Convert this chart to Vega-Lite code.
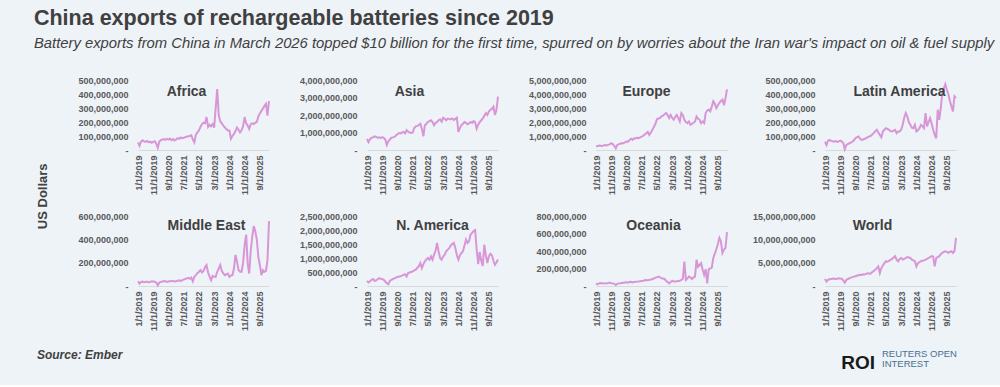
{
"$schema": "https://vega.github.io/schema/vega-lite/v6.json",
"background": "#eef3f8",
"padding": {"left": 33, "top": 7, "right": 6, "bottom": 12},
"data": {"values": [
{"d":"1/1/2019","Africa":55e6,"Asia":640e6,"Europe":290e6,"LatinAmerica":60e6,"MiddleEast":40e6,"NAmerica":180e6,"Oceania":30e6,"World":1500e6},
{"d":"2/1/2019","Africa":30e6,"Asia":450e6,"Europe":270e6,"LatinAmerica":36e6,"MiddleEast":20e6,"NAmerica":130e6,"Oceania":19e6,"World":940e6},
{"d":"3/1/2019","Africa":60e6,"Asia":620e6,"Europe":320e6,"LatinAmerica":67e6,"MiddleEast":35e6,"NAmerica":170e6,"Oceania":30e6,"World":1300e6},
{"d":"4/1/2019","Africa":70e6,"Asia":700e6,"Europe":300e6,"LatinAmerica":72e6,"MiddleEast":38e6,"NAmerica":220e6,"Oceania":35e6,"World":1450e6},
{"d":"5/1/2019","Africa":62e6,"Asia":720e6,"Europe":280e6,"LatinAmerica":65e6,"MiddleEast":32e6,"NAmerica":250e6,"Oceania":28e6,"World":1500e6},
{"d":"6/1/2019","Africa":58e6,"Asia":780e6,"Europe":330e6,"LatinAmerica":62e6,"MiddleEast":35e6,"NAmerica":180e6,"Oceania":32e6,"World":1550e6},
{"d":"7/1/2019","Africa":65e6,"Asia":750e6,"Europe":350e6,"LatinAmerica":60e6,"MiddleEast":38e6,"NAmerica":200e6,"Oceania":30e6,"World":1600e6},
{"d":"8/1/2019","Africa":55e6,"Asia":700e6,"Europe":320e6,"LatinAmerica":64e6,"MiddleEast":30e6,"NAmerica":240e6,"Oceania":28e6,"World":1500e6},
{"d":"9/1/2019","Africa":60e6,"Asia":720e6,"Europe":380e6,"LatinAmerica":58e6,"MiddleEast":35e6,"NAmerica":280e6,"Oceania":35e6,"World":1550e6},
{"d":"10/1/2019","Africa":52e6,"Asia":680e6,"Europe":400e6,"LatinAmerica":62e6,"MiddleEast":40e6,"NAmerica":260e6,"Oceania":38e6,"World":1670e6},
{"d":"11/1/2019","Africa":58e6,"Asia":740e6,"Europe":480e6,"LatinAmerica":67e6,"MiddleEast":38e6,"NAmerica":250e6,"Oceania":32e6,"World":1600e6},
{"d":"12/1/2019","Africa":62e6,"Asia":700e6,"Europe":420e6,"LatinAmerica":60e6,"MiddleEast":36e6,"NAmerica":220e6,"Oceania":30e6,"World":1550e6},
{"d":"1/1/2020","Africa":45e6,"Asia":600e6,"Europe":300e6,"LatinAmerica":50e6,"MiddleEast":30e6,"NAmerica":160e6,"Oceania":25e6,"World":1200e6},
{"d":"2/1/2020","Africa":15e6,"Asia":290e6,"Europe":120e6,"LatinAmerica":5e6,"MiddleEast":6e6,"NAmerica":100e6,"Oceania":12e6,"World":720e6},
{"d":"3/1/2020","Africa":60e6,"Asia":500e6,"Europe":360e6,"LatinAmerica":36e6,"MiddleEast":30e6,"NAmerica":60e6,"Oceania":25e6,"World":1300e6},
{"d":"4/1/2020","Africa":70e6,"Asia":600e6,"Europe":420e6,"LatinAmerica":42e6,"MiddleEast":35e6,"NAmerica":180e6,"Oceania":30e6,"World":1500e6},
{"d":"5/1/2020","Africa":75e6,"Asia":700e6,"Europe":450e6,"LatinAmerica":48e6,"MiddleEast":38e6,"NAmerica":220e6,"Oceania":32e6,"World":1650e6},
{"d":"6/1/2020","Africa":78e6,"Asia":720e6,"Europe":500e6,"LatinAmerica":52e6,"MiddleEast":43e6,"NAmerica":250e6,"Oceania":35e6,"World":1800e6},
{"d":"7/1/2020","Africa":72e6,"Asia":750e6,"Europe":480e6,"LatinAmerica":60e6,"MiddleEast":40e6,"NAmerica":270e6,"Oceania":38e6,"World":1900e6},
{"d":"8/1/2020","Africa":80e6,"Asia":830e6,"Europe":550e6,"LatinAmerica":70e6,"MiddleEast":35e6,"NAmerica":300e6,"Oceania":40e6,"World":2000e6},
{"d":"9/1/2020","Africa":75e6,"Asia":900e6,"Europe":600e6,"LatinAmerica":84e6,"MiddleEast":38e6,"NAmerica":320e6,"Oceania":42e6,"World":2100e6},
{"d":"10/1/2020","Africa":82e6,"Asia":970e6,"Europe":580e6,"LatinAmerica":92e6,"MiddleEast":42e6,"NAmerica":340e6,"Oceania":38e6,"World":2250e6},
{"d":"11/1/2020","Africa":70e6,"Asia":950e6,"Europe":720e6,"LatinAmerica":96e6,"MiddleEast":40e6,"NAmerica":350e6,"Oceania":45e6,"World":2300e6},
{"d":"12/1/2020","Africa":78e6,"Asia":1000e6,"Europe":800e6,"LatinAmerica":80e6,"MiddleEast":45e6,"NAmerica":370e6,"Oceania":48e6,"World":2400e6},
{"d":"1/1/2021","Africa":68e6,"Asia":1030e6,"Europe":720e6,"LatinAmerica":72e6,"MiddleEast":38e6,"NAmerica":400e6,"Oceania":40e6,"World":2350e6},
{"d":"2/1/2021","Africa":75e6,"Asia":950e6,"Europe":840e6,"LatinAmerica":75e6,"MiddleEast":40e6,"NAmerica":420e6,"Oceania":45e6,"World":2500e6},
{"d":"3/1/2021","Africa":85e6,"Asia":1130e6,"Europe":820e6,"LatinAmerica":80e6,"MiddleEast":45e6,"NAmerica":340e6,"Oceania":48e6,"World":2450e6},
{"d":"4/1/2021","Africa":80e6,"Asia":1050e6,"Europe":880e6,"LatinAmerica":84e6,"MiddleEast":48e6,"NAmerica":460e6,"Oceania":50e6,"World":2600e6},
{"d":"5/1/2021","Africa":90e6,"Asia":1000e6,"Europe":850e6,"LatinAmerica":92e6,"MiddleEast":42e6,"NAmerica":480e6,"Oceania":52e6,"World":2750e6},
{"d":"6/1/2021","Africa":85e6,"Asia":970e6,"Europe":900e6,"LatinAmerica":96e6,"MiddleEast":50e6,"NAmerica":500e6,"Oceania":55e6,"World":2700e6},
{"d":"7/1/2021","Africa":88e6,"Asia":1000e6,"Europe":950e6,"LatinAmerica":100e6,"MiddleEast":55e6,"NAmerica":520e6,"Oceania":58e6,"World":2650e6},
{"d":"8/1/2021","Africa":92e6,"Asia":1250e6,"Europe":1020e6,"LatinAmerica":110e6,"MiddleEast":60e6,"NAmerica":560e6,"Oceania":60e6,"World":2970e6},
{"d":"9/1/2021","Africa":95e6,"Asia":1350e6,"Europe":1100e6,"LatinAmerica":120e6,"MiddleEast":65e6,"NAmerica":580e6,"Oceania":65e6,"World":3200e6},
{"d":"10/1/2021","Africa":98e6,"Asia":1380e6,"Europe":1200e6,"LatinAmerica":135e6,"MiddleEast":70e6,"NAmerica":650e6,"Oceania":69e6,"World":3500e6},
{"d":"11/1/2021","Africa":100e6,"Asia":1420e6,"Europe":1300e6,"LatinAmerica":144e6,"MiddleEast":62e6,"NAmerica":700e6,"Oceania":65e6,"World":3840e6},
{"d":"12/1/2021","Africa":105e6,"Asia":1500e6,"Europe":1080e6,"LatinAmerica":125e6,"MiddleEast":72e6,"NAmerica":820e6,"Oceania":72e6,"World":4200e6},
{"d":"1/1/2022","Africa":75e6,"Asia":1220e6,"Europe":1250e6,"LatinAmerica":108e6,"MiddleEast":40e6,"NAmerica":640e6,"Oceania":72e6,"World":2750e6},
{"d":"2/1/2022","Africa":55e6,"Asia":780e6,"Europe":1440e6,"LatinAmerica":91e6,"MiddleEast":80e6,"NAmerica":780e6,"Oceania":80e6,"World":3840e6},
{"d":"3/1/2022","Africa":110e6,"Asia":1420e6,"Europe":1650e6,"LatinAmerica":132e6,"MiddleEast":93e6,"NAmerica":880e6,"Oceania":85e6,"World":4400e6},
{"d":"4/1/2022","Africa":125e6,"Asia":1500e6,"Europe":1850e6,"LatinAmerica":145e6,"MiddleEast":110e6,"NAmerica":950e6,"Oceania":96e6,"World":4900e6},
{"d":"5/1/2022","Africa":140e6,"Asia":1600e6,"Europe":2200e6,"LatinAmerica":156e6,"MiddleEast":122e6,"NAmerica":1000e6,"Oceania":100e6,"World":5300e6},
{"d":"6/1/2022","Africa":165e6,"Asia":1650e6,"Europe":2250e6,"LatinAmerica":150e6,"MiddleEast":136e6,"NAmerica":940e6,"Oceania":108e6,"World":5200e6},
{"d":"7/1/2022","Africa":185e6,"Asia":1700e6,"Europe":2280e6,"LatinAmerica":144e6,"MiddleEast":116e6,"NAmerica":1060e6,"Oceania":100e6,"World":5400e6},
{"d":"8/1/2022","Africa":195e6,"Asia":1600e6,"Europe":2400e6,"LatinAmerica":135e6,"MiddleEast":130e6,"NAmerica":940e6,"Oceania":88e6,"World":5600e6},
{"d":"9/1/2022","Africa":190e6,"Asia":1420e6,"Europe":2450e6,"LatinAmerica":132e6,"MiddleEast":160e6,"NAmerica":1120e6,"Oceania":85e6,"World":5800e6},
{"d":"10/1/2022","Africa":235e6,"Asia":1550e6,"Europe":2550e6,"LatinAmerica":138e6,"MiddleEast":180e6,"NAmerica":1250e6,"Oceania":80e6,"World":6100e6},
{"d":"11/1/2022","Africa":165e6,"Asia":1600e6,"Europe":2640e6,"LatinAmerica":144e6,"MiddleEast":116e6,"NAmerica":1540e6,"Oceania":60e6,"World":6400e6},
{"d":"12/1/2022","Africa":180e6,"Asia":1700e6,"Europe":2500e6,"LatinAmerica":120e6,"MiddleEast":80e6,"NAmerica":1240e6,"Oceania":45e6,"World":5650e6},
{"d":"1/1/2023","Africa":170e6,"Asia":1750e6,"Europe":2280e6,"LatinAmerica":132e6,"MiddleEast":50e6,"NAmerica":1000e6,"Oceania":30e6,"World":5300e6},
{"d":"2/1/2023","Africa":185e6,"Asia":1620e6,"Europe":2500e6,"LatinAmerica":132e6,"MiddleEast":87e6,"NAmerica":940e6,"Oceania":45e6,"World":5800e6},
{"d":"3/1/2023","Africa":160e6,"Asia":1840e6,"Europe":2300e6,"LatinAmerica":144e6,"MiddleEast":80e6,"NAmerica":1050e6,"Oceania":58e6,"World":6000e6},
{"d":"4/1/2023","Africa":300e6,"Asia":1780e6,"Europe":2160e6,"LatinAmerica":180e6,"MiddleEast":78e6,"NAmerica":1120e6,"Oceania":55e6,"World":5650e6},
{"d":"5/1/2023","Africa":435e6,"Asia":1700e6,"Europe":2350e6,"LatinAmerica":230e6,"MiddleEast":122e6,"NAmerica":1240e6,"Oceania":50e6,"World":5800e6},
{"d":"6/1/2023","Africa":250e6,"Asia":1800e6,"Europe":2500e6,"LatinAmerica":264e6,"MiddleEast":150e6,"NAmerica":1300e6,"Oceania":55e6,"World":6000e6},
{"d":"7/1/2023","Africa":205e6,"Asia":1780e6,"Europe":2280e6,"LatinAmerica":240e6,"MiddleEast":180e6,"NAmerica":1350e6,"Oceania":58e6,"World":6200e6},
{"d":"8/1/2023","Africa":190e6,"Asia":1750e6,"Europe":2040e6,"LatinAmerica":200e6,"MiddleEast":130e6,"NAmerica":1450e6,"Oceania":60e6,"World":6100e6},
{"d":"9/1/2023","Africa":175e6,"Asia":1800e6,"Europe":2640e6,"LatinAmerica":180e6,"MiddleEast":107e6,"NAmerica":1500e6,"Oceania":69e6,"World":6000e6},
{"d":"10/1/2023","Africa":160e6,"Asia":1720e6,"Europe":2500e6,"LatinAmerica":160e6,"MiddleEast":93e6,"NAmerica":1540e6,"Oceania":80e6,"World":5650e6},
{"d":"11/1/2023","Africa":150e6,"Asia":1780e6,"Europe":2160e6,"LatinAmerica":156e6,"MiddleEast":100e6,"NAmerica":1360e6,"Oceania":280e6,"World":5500e6},
{"d":"12/1/2023","Africa":140e6,"Asia":1850e6,"Europe":2000e6,"LatinAmerica":180e6,"MiddleEast":107e6,"NAmerica":1100e6,"Oceania":69e6,"World":5300e6},
{"d":"1/1/2024","Africa":140e6,"Asia":1030e6,"Europe":1920e6,"LatinAmerica":132e6,"MiddleEast":78e6,"NAmerica":940e6,"Oceania":88e6,"World":4200e6},
{"d":"2/1/2024","Africa":80e6,"Asia":1250e6,"Europe":2040e6,"LatinAmerica":140e6,"MiddleEast":90e6,"NAmerica":1100e6,"Oceania":108e6,"World":4900e6},
{"d":"3/1/2024","Africa":100e6,"Asia":1420e6,"Europe":1800e6,"LatinAmerica":156e6,"MiddleEast":93e6,"NAmerica":1180e6,"Oceania":100e6,"World":5100e6},
{"d":"4/1/2024","Africa":115e6,"Asia":1500e6,"Europe":1870e6,"LatinAmerica":180e6,"MiddleEast":150e6,"NAmerica":1240e6,"Oceania":80e6,"World":5300e6},
{"d":"5/1/2024","Africa":135e6,"Asia":1600e6,"Europe":1950e6,"LatinAmerica":170e6,"MiddleEast":267e6,"NAmerica":1450e6,"Oceania":96e6,"World":5400e6},
{"d":"6/1/2024","Africa":160e6,"Asia":1550e6,"Europe":2040e6,"LatinAmerica":156e6,"MiddleEast":209e6,"NAmerica":1660e6,"Oceania":110e6,"World":5500e6},
{"d":"7/1/2024","Africa":145e6,"Asia":1470e6,"Europe":2400e6,"LatinAmerica":264e6,"MiddleEast":136e6,"NAmerica":1540e6,"Oceania":300e6,"World":5650e6},
{"d":"8/1/2024","Africa":125e6,"Asia":1520e6,"Europe":2250e6,"LatinAmerica":168e6,"MiddleEast":122e6,"NAmerica":1600e6,"Oceania":220e6,"World":5800e6},
{"d":"9/1/2024","Africa":140e6,"Asia":1600e6,"Europe":2160e6,"LatinAmerica":200e6,"MiddleEast":122e6,"NAmerica":1840e6,"Oceania":240e6,"World":6000e6},
{"d":"10/1/2024","Africa":170e6,"Asia":1550e6,"Europe":1920e6,"LatinAmerica":228e6,"MiddleEast":200e6,"NAmerica":1900e6,"Oceania":260e6,"World":6200e6},
{"d":"11/1/2024","Africa":235e6,"Asia":1650e6,"Europe":2040e6,"LatinAmerica":190e6,"MiddleEast":350e6,"NAmerica":1960e6,"Oceania":185e6,"World":6400e6},
{"d":"12/1/2024","Africa":190e6,"Asia":1580e6,"Europe":1920e6,"LatinAmerica":144e6,"MiddleEast":440e6,"NAmerica":2000e6,"Oceania":127e6,"World":6300e6},
{"d":"1/1/2025","Africa":175e6,"Asia":1220e6,"Europe":2640e6,"LatinAmerica":110e6,"MiddleEast":194e6,"NAmerica":1300e6,"Oceania":192e6,"World":4200e6},
{"d":"2/1/2025","Africa":150e6,"Asia":1450e6,"Europe":2800e6,"LatinAmerica":84e6,"MiddleEast":107e6,"NAmerica":780e6,"Oceania":30e6,"World":6000e6},
{"d":"3/1/2025","Africa":185e6,"Asia":1600e6,"Europe":2880e6,"LatinAmerica":288e6,"MiddleEast":300e6,"NAmerica":1220e6,"Oceania":192e6,"World":6200e6},
{"d":"4/1/2025","Africa":190e6,"Asia":1700e6,"Europe":2760e6,"LatinAmerica":216e6,"MiddleEast":420e6,"NAmerica":900e6,"Oceania":200e6,"World":6400e6},
{"d":"5/1/2025","Africa":185e6,"Asia":1800e6,"Europe":3100e6,"LatinAmerica":300e6,"MiddleEast":513e6,"NAmerica":720e6,"Oceania":210e6,"World":6800e6},
{"d":"6/1/2025","Africa":195e6,"Asia":1950e6,"Europe":3480e6,"LatinAmerica":408e6,"MiddleEast":470e6,"NAmerica":1480e6,"Oceania":320e6,"World":7100e6},
{"d":"7/1/2025","Africa":200e6,"Asia":2100e6,"Europe":3300e6,"LatinAmerica":440e6,"MiddleEast":397e6,"NAmerica":1100e6,"Oceania":370e6,"World":7300e6},
{"d":"8/1/2025","Africa":240e6,"Asia":2000e6,"Europe":3000e6,"LatinAmerica":469e6,"MiddleEast":250e6,"NAmerica":820e6,"Oceania":420e6,"World":7450e6},
{"d":"9/1/2025","Africa":260e6,"Asia":2200e6,"Europe":3200e6,"LatinAmerica":430e6,"MiddleEast":180e6,"NAmerica":1060e6,"Oceania":480e6,"World":7300e6},
{"d":"10/1/2025","Africa":280e6,"Asia":2300e6,"Europe":3370e6,"LatinAmerica":396e6,"MiddleEast":93e6,"NAmerica":1150e6,"Oceania":550e6,"World":7100e6},
{"d":"11/1/2025","Africa":295e6,"Asia":2350e6,"Europe":3500e6,"LatinAmerica":350e6,"MiddleEast":136e6,"NAmerica":1100e6,"Oceania":510e6,"World":7300e6},
{"d":"12/1/2025","Africa":315e6,"Asia":2480e6,"Europe":3600e6,"LatinAmerica":312e6,"MiddleEast":122e6,"NAmerica":900e6,"Oceania":377e6,"World":7450e6},
{"d":"1/1/2026","Africa":330e6,"Asia":2000e6,"Europe":3200e6,"LatinAmerica":276e6,"MiddleEast":130e6,"NAmerica":760e6,"Oceania":415e6,"World":7100e6},
{"d":"2/1/2026","Africa":245e6,"Asia":2300e6,"Europe":3700e6,"LatinAmerica":384e6,"MiddleEast":220e6,"NAmerica":850e6,"Oceania":435e6,"World":7500e6},
{"d":"3/1/2026","Africa":350e6,"Asia":3050e6,"Europe":4330e6,"LatinAmerica":372e6,"MiddleEast":556e6,"NAmerica":950e6,"Oceania":615e6,"World":10300e6}
]},
"title": {"text": "China exports of rechargeable batteries since 2019", "subtitle": "Battery exports from China in March 2026  topped $10 billion for the first time, spurred on by worries about the Iran war's impact on oil & fuel supply", "anchor": "start", "frame": "bounds", "dx": -3, "offset": 25, "font": "Liberation Sans", "fontSize": 21.5, "fontWeight": "bold", "color": "#404040", "subtitleFont": "Liberation Sans", "subtitleFontSize": 14.8, "subtitleFontStyle": "italic", "subtitleFontWeight": "normal", "subtitleColor": "#404040", "subtitlePadding": 7},
"vconcat": [{
  "title": {"text": "Source: Ember", "orient": "bottom", "anchor": "start", "dx": 0, "offset": -23, "font": "Liberation Sans", "fontSize": 12, "fontWeight": "bold", "fontStyle": "italic", "color": "#404040"},
  "vconcat": [{
    "title": {"text": ["REUTERS OPEN", "INTEREST"], "orient": "bottom", "anchor": "end", "align": "left", "dx": -78, "offset": -24, "font": "Liberation Sans", "fontSize": 9.5, "fontWeight": "normal", "lineHeight": 10, "color": "#47708f"},
    "vconcat": [{
      "title": {"text": "ROI", "orient": "bottom", "anchor": "end", "dx": -85, "offset": 23, "font": "Liberation Sans", "fontSize": 19, "fontWeight": "bold", "color": "#1a1a1a"},
      "vconcat": [{
        "title": {"text": "US Dollars", "orient": "left", "anchor": "middle", "offset": 28, "dx": 7, "font": "Liberation Sans", "fontSize": 13, "fontWeight": "bold", "color": "#404040"},
        "columns": 4,
        "bounds": "flush",
        "spacing": {"row": 66, "column": 98},
        "concat": [
          {"title": {"text": "Africa", "offset": -23, "dx": -17}, "width": 131, "height": 70,
           "mark": {"type": "line", "color": "#d996d7", "strokeWidth": 2},
           "encoding": {"x": {"field": "d", "type": "ordinal", "sort": null, "title": null, "scale": {"type": "point", "padding": 0}, "axis": {"values": ["1/1/2019","11/1/2019","9/1/2020","7/1/2021","5/1/2022","3/1/2023","1/1/2024","11/1/2024","9/1/2025"]}},
                        "y": {"field": "Africa", "type": "quantitative", "title": null, "scale": {"domain": [0, 500000000], "nice": false}, "axis": {"values": [0, 100000000, 200000000, 300000000, 400000000, 500000000]}}}},
          {"title": {"text": "Asia", "offset": -23, "dx": -23}, "width": 131, "height": 70,
           "mark": {"type": "line", "color": "#d996d7", "strokeWidth": 2},
           "encoding": {"x": {"field": "d", "type": "ordinal", "sort": null, "title": null, "scale": {"type": "point", "padding": 0}, "axis": {"values": ["1/1/2019","11/1/2019","9/1/2020","7/1/2021","5/1/2022","3/1/2023","1/1/2024","11/1/2024","9/1/2025"]}},
                        "y": {"field": "Asia", "type": "quantitative", "title": null, "scale": {"domain": [0, 4000000000], "nice": false}, "axis": {"values": [0, 1000000000, 2000000000, 3000000000, 4000000000]}}}},
          {"title": {"text": "Europe", "offset": -23, "dx": -15}, "width": 131, "height": 70,
           "mark": {"type": "line", "color": "#d996d7", "strokeWidth": 2},
           "encoding": {"x": {"field": "d", "type": "ordinal", "sort": null, "title": null, "scale": {"type": "point", "padding": 0}, "axis": {"values": ["1/1/2019","11/1/2019","9/1/2020","7/1/2021","5/1/2022","3/1/2023","1/1/2024","11/1/2024","9/1/2025"]}},
                        "y": {"field": "Europe", "type": "quantitative", "title": null, "scale": {"domain": [0, 5000000000], "nice": false}, "axis": {"values": [0, 1000000000, 2000000000, 3000000000, 4000000000, 5000000000]}}}},
          {"title": {"text": "Latin America", "offset": -23, "dx": 9}, "width": 131, "height": 70,
           "mark": {"type": "line", "color": "#d996d7", "strokeWidth": 2},
           "encoding": {"x": {"field": "d", "type": "ordinal", "sort": null, "title": null, "scale": {"type": "point", "padding": 0}, "axis": {"values": ["1/1/2019","11/1/2019","9/1/2020","7/1/2021","5/1/2022","3/1/2023","1/1/2024","11/1/2024","9/1/2025"]}},
                        "y": {"field": "LatinAmerica", "type": "quantitative", "title": null, "scale": {"domain": [0, 500000000], "nice": false}, "axis": {"values": [0, 100000000, 200000000, 300000000, 400000000, 500000000]}}}},
          {"title": {"text": "Middle East", "offset": -21, "dx": 3}, "width": 131, "height": 70,
           "mark": {"type": "line", "color": "#d996d7", "strokeWidth": 2},
           "encoding": {"x": {"field": "d", "type": "ordinal", "sort": null, "title": null, "scale": {"type": "point", "padding": 0}, "axis": {"values": ["1/1/2019","11/1/2019","9/1/2020","7/1/2021","5/1/2022","3/1/2023","1/1/2024","11/1/2024","9/1/2025"]}},
                        "y": {"field": "MiddleEast", "type": "quantitative", "title": null, "scale": {"domain": [0, 600000000], "nice": false}, "axis": {"values": [0, 200000000, 400000000, 600000000]}}}},
          {"title": {"text": "N. America", "offset": -21, "dx": 0}, "width": 131, "height": 70,
           "mark": {"type": "line", "color": "#d996d7", "strokeWidth": 2},
           "encoding": {"x": {"field": "d", "type": "ordinal", "sort": null, "title": null, "scale": {"type": "point", "padding": 0}, "axis": {"values": ["1/1/2019","11/1/2019","9/1/2020","7/1/2021","5/1/2022","3/1/2023","1/1/2024","11/1/2024","9/1/2025"]}},
                        "y": {"field": "NAmerica", "type": "quantitative", "title": null, "scale": {"domain": [0, 2500000000], "nice": false}, "axis": {"values": [0, 500000000, 1000000000, 1500000000, 2000000000, 2500000000]}}}},
          {"title": {"text": "Oceania", "offset": -21, "dx": -8}, "width": 131, "height": 70,
           "mark": {"type": "line", "color": "#d996d7", "strokeWidth": 2},
           "encoding": {"x": {"field": "d", "type": "ordinal", "sort": null, "title": null, "scale": {"type": "point", "padding": 0}, "axis": {"values": ["1/1/2019","11/1/2019","9/1/2020","7/1/2021","5/1/2022","3/1/2023","1/1/2024","11/1/2024","9/1/2025"]}},
                        "y": {"field": "Oceania", "type": "quantitative", "title": null, "scale": {"domain": [0, 800000000], "nice": false}, "axis": {"values": [0, 200000000, 400000000, 600000000, 800000000]}}}},
          {"title": {"text": "World", "offset": -21, "dx": -18}, "width": 131, "height": 70,
           "mark": {"type": "line", "color": "#d996d7", "strokeWidth": 2},
           "encoding": {"x": {"field": "d", "type": "ordinal", "sort": null, "title": null, "scale": {"type": "point", "padding": 0}, "axis": {"values": ["1/1/2019","11/1/2019","9/1/2020","7/1/2021","5/1/2022","3/1/2023","1/1/2024","11/1/2024","9/1/2025"]}},
                        "y": {"field": "World", "type": "quantitative", "title": null, "scale": {"domain": [0, 15000000000], "nice": false}, "axis": {"values": [0, 5000000000, 10000000000, 15000000000]}}}}
        ]
      }]
    }]
  }]
}],
"config": {
  "view": {"stroke": null},
  "title": {"font": "Liberation Sans", "fontSize": 14, "fontWeight": "bold", "color": "#404040", "anchor": "middle"},
  "axis": {"labelFont": "Liberation Sans", "labelFontSize": 9, "labelFontWeight": "bold", "labelColor": "#595959", "ticks": false, "grid": false, "domain": false},
  "axisX": {"domain": true, "domainColor": "#d9d9d9", "domainWidth": 1, "labelAngle": -90, "labelAlign": "right", "labelBaseline": "middle", "labelPadding": 5, "labelOverlap": false},
  "axisY": {"labelPadding": 10, "labelOverlap": false, "labelExpr": "datum.value == 0 ? '-' : format(datum.value, ',')"}
}
}
